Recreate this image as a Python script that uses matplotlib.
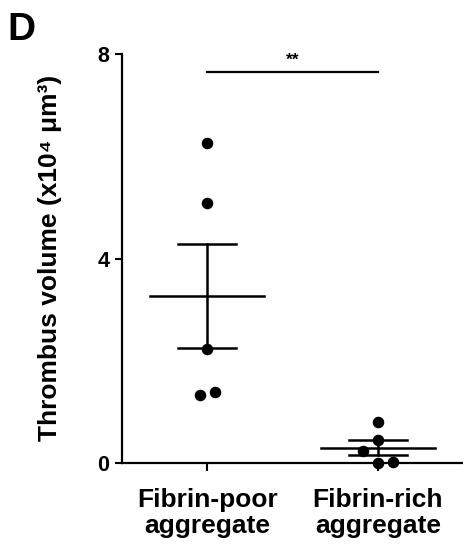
import matplotlib
matplotlib.use("Agg")
import matplotlib.pyplot as plt
import numpy as np

plt.rcParams['font.family'] = ['Liberation Sans', 'DejaVu Sans']
plt.rcParams['font.weight'] = 'bold'

# data (x10^4 um^3)
groups = ['Fibrin-poor\naggregate', 'Fibrin-rich\naggregate']
poor = [6.26, 5.09, 2.23, 1.33, 1.39]
rich = [0.80, 0.45, 0.23, 0.0, 0.02]
# horizontal scatter of the dots as drawn
poor_dx = [0.0, 0.0, 0.0, -0.04, 0.045]
rich_dx = [0.0, 0.0, -0.088, 0.0, 0.088]
sig_y = 7.65
sig_text = '**'

fig = plt.figure(figsize=(4.63, 5.52), dpi=100)
ax = fig.add_axes([0.2635, 0.1612, 0.7365, 0.7408])

for i, (vals, dx) in enumerate([(poor, poor_dx), (rich, rich_dx)]):
    x0 = i + 1
    v = np.array(vals)
    m = v.mean()
    sem = v.std(ddof=1) / np.sqrt(len(v))
    ax.plot(x0 + np.array(dx), v, 'o', color='black', ms=7.3, clip_on=False, zorder=3)
    ax.plot([x0 - 0.335, x0 + 0.335], [m, m], color='black', lw=1.8)
    ax.plot([x0, x0], [m - sem, m + sem], color='black', lw=1.8)
    for e in (m - sem, m + sem):
        ax.plot([x0 - 0.17, x0 + 0.17], [e, e], color='black', lw=1.8)

ax.plot([1, 2], [sig_y, sig_y], color='black', lw=1.6, clip_on=False)
ax.text(1.5, sig_y + 0.08, sig_text, ha='center', va='bottom', fontsize=12.5, fontweight='bold')

ax.set_xlim(0.5, 2.5)
ax.set_ylim(0, 8)
ax.set_yticks([0, 4, 8])
ax.set_xticks([1, 2])
ax.set_xticklabels(groups, fontsize=19, fontweight='bold', linespacing=1.1)
ax.tick_params(axis='y', labelsize=15.5, length=5, width=1.5, pad=4)
ax.tick_params(axis='x', length=6, width=1.5, pad=12)
for lab in ax.get_yticklabels():
    lab.set_fontweight('bold')
ax.spines['top'].set_visible(False)
ax.spines['right'].set_visible(False)
ax.spines['left'].set_linewidth(1.6)
ax.spines['bottom'].set_linewidth(1.6)

fig.text(0.108, 0.532, 'Thrombus volume (x10\u2074 \u03bcm\u00b3)', rotation=90,
         ha='center', va='center', fontsize=19, fontweight='bold')
fig.text(0.015, 0.945, 'D', fontsize=28, fontweight='bold', ha='left', va='center')

fig.savefig('out.png', dpi=100)
